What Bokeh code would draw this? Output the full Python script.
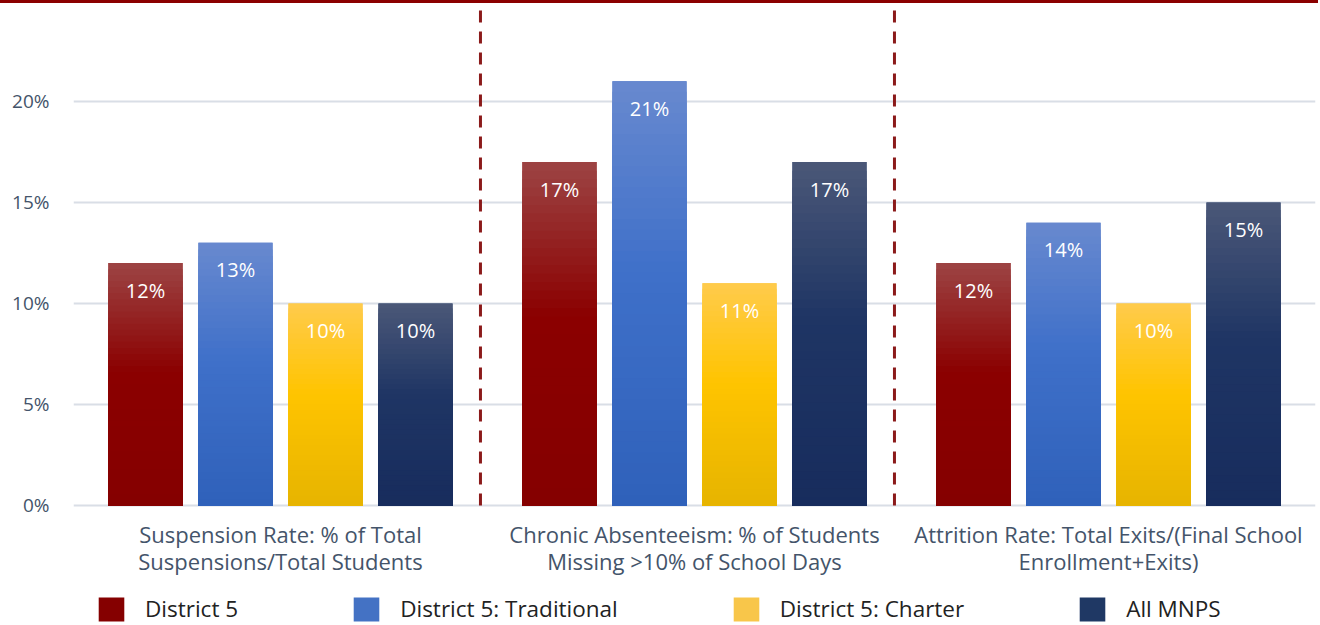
from bokeh.plotting import figure
from bokeh.models import Range1d, FixedTicker, Legend, LegendItem, ColumnDataSource, NumeralTickFormatter
from bokeh.core.properties import value
from bokeh.embed import file_html
from bokeh.resources import INLINE

# ---- data ----
categories = [
    "Suspension Rate: % of Total\nSuspensions/Total Students",
    "Chronic Absenteeism: % of Students\nMissing >10% of School Days",
    "Attrition Rate: Total Exits/(Final School\nEnrollment+Exits)",
]
series_names = ["District 5", "District 5: Traditional", "District 5: Charter", "All MNPS"]
district5 = [0.12, 0.17, 0.12]
traditional = [0.13, 0.21, 0.14]
charter = [0.10, 0.11, 0.10]
all_mnps = [0.10, 0.17, 0.15]
y_ticks = [0, 0.05, 0.10, 0.15, 0.20]

series_values = [district5, traditional, charter, all_mnps]
# gradient colours (top, middle, bottom) and legend colours
grad = [
    ("#9C4444", "#8B0000", "#850000"),
    ("#6889CF", "#3F70C9", "#2F61BA"),
    ("#FFCB4C", "#FFC400", "#E6B400"),
    ("#4B5878", "#1F3564", "#172C5D"),
]
legend_colors = ["#850000", "#4472C4", "#F8C64A", "#1F3864"]

FONT = "Open Sans"
Y_TOP = 0.247
Y_BOTTOM = -0.0594

p = figure(width=1318, height=622, output_backend="svg", toolbar_location=None,
           x_range=Range1d(0, 3), y_range=Range1d(Y_BOTTOM, Y_TOP),
           min_border_left=73, min_border_right=3, min_border_top=3, min_border_bottom=0)
p.outline_line_color = None
p.styles = {"border-top": "3px solid #8B0000"}
p.xaxis.visible = False

def hex2rgb(h):
    h = h.lstrip("#")
    return tuple(int(h[i:i + 2], 16) for i in (0, 2, 4))

def mix(c1, c2, t):
    a, b = hex2rgb(c1), hex2rgb(c2)
    return "#%02x%02x%02x" % tuple(int(round(a[i] + (b[i] - a[i]) * t)) for i in range(3))

def gcol(cols, f):
    top, mid, bot = cols
    if f >= 0.55:
        return mix(mid, top, (f - 0.55) / 0.45)
    return mix(bot, mid, f / 0.55)

step = 0.2174
bw = 0.179
offsets = [-1.5, -0.5, 0.5, 1.5]
centers = [0.5, 1.5, 2.5]
N = 40

legend_items = []
for si, vals in enumerate(series_values):
    xs = [c + offsets[si] * step for c in centers]
    base = p.vbar(x=xs, top=vals, bottom=0, width=bw, fill_color=legend_colors[si], line_color=None)
    legend_items.append(LegendItem(label=series_names[si], renderers=[base]))
    for k in range(N, 0, -1):
        f = k / N
        p.vbar(x=xs, top=[v * f for v in vals], bottom=0, width=bw,
               fill_color=gcol(grad[si], (k - 0.5) / N), line_color=None)
    src = ColumnDataSource(dict(x=xs, y=vals, t=["%d%%" % round(v * 100) for v in vals]))
    p.text(x="x", y="y", text="t", source=src, text_color="white", text_align="center",
           text_baseline="middle", y_offset=27, text_font=value(FONT), text_font_size="20px")

# dashed separators between the category groups (stop at the zero line)
sep_x = [c + 0.5 - 0.017 for c in centers[:-1]]
p.segment(x0=sep_x, y0=[0] * len(sep_x), x1=sep_x, y1=[Y_TOP] * len(sep_x),
          line_color="#8B1A1A", line_width=3, line_dash="12 9")

# category labels under the zero line
p.text(x=centers, y=[0] * len(centers), text=categories, text_align="center",
       text_baseline="top", y_offset=14, text_font=value(FONT), text_font_size="22px",
       text_color="#44546A", text_line_height=0.87)

# y axis
p.yaxis.ticker = FixedTicker(ticks=y_ticks)
p.yaxis.formatter = NumeralTickFormatter(format="0%")
p.yaxis.axis_line_color = None
p.yaxis.major_tick_line_color = None
p.yaxis.minor_tick_line_color = None
p.yaxis.major_label_text_font = FONT
p.yaxis.major_label_text_font_size = "19px"
p.yaxis.major_label_text_color = "#44546A"
p.yaxis.major_label_standoff = 18

p.xgrid.grid_line_color = None
p.ygrid.grid_line_color = "#D9DEE6"
p.ygrid.grid_line_width = 2

legend = Legend(items=legend_items, orientation="horizontal", spacing=112,
                glyph_width=32, glyph_height=30, label_standoff=18,
                label_text_font=FONT, label_text_font_size="22.5px", label_text_color="#222222",
                border_line_color=None, background_fill_alpha=0, padding=0, margin=0,
                location=(22, 1))
p.add_layout(legend)

open("out.html", "w").write(file_html(p, INLINE))
